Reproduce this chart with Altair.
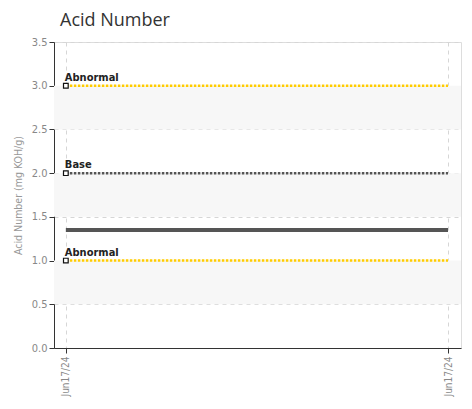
import altair as alt
import pandas as pd

# data
x_points = [0, 1]
x_labels = ["Jun17/24", "Jun17/24"]
series_values = [1.35, 1.35]
threshold_names = ["Abnormal", "Base", "Abnormal"]
threshold_values = [3.0, 2.0, 1.0]
threshold_colors = ["#ffcc00", "#555555", "#ffcc00"]
band_lo = [2.5, 1.5, 0.5]
band_hi = [3.0, 2.0, 1.0]

W, H = 407, 306
FONT = "DejaVu Sans Condensed, Roboto, sans-serif"

series_df = pd.DataFrame({"x": x_points, "y": series_values})
thr_df = pd.DataFrame({
    "name": threshold_names, "y": threshold_values, "color": threshold_colors,
    "x": [x_points[0]] * 3, "x2": [x_points[-1]] * 3,
})
band_df = pd.DataFrame({"lo": band_lo, "hi": band_hi})

xscale = alt.Scale(domain=[-0.031, 1.034], nice=False, zero=False)
yscale = alt.Scale(domain=[0, 3.5], nice=False)

label_expr = "datum.value == 0 ? '%s' : '%s'" % (x_labels[0], x_labels[1])

x_axis = alt.Axis(values=x_points, labelExpr=label_expr, title=None, grid=True,
                  gridDash=[4, 4], gridColor="#d6d6d6", labelAngle=270,
                  labelAlign="right", labelBaseline="middle", labelColor="#888888",
                  labelFont=FONT, labelFontSize=10, domainColor="#333333",
                  tickColor="#333333", tickSize=5, labelPadding=3)
y_axis = alt.Axis(values=[0, 0.5, 1, 1.5, 2, 2.5, 3, 3.5], format=".1f",
                  title="Acid Number (mg KOH/g)", titleColor="#999999",
                  titleFont=FONT, titleFontSize=10.5, titleFontWeight="normal",
                  titlePadding=8, grid=True, gridDash=[4, 4], gridColor="#d6d6d6",
                  labelColor="#888888", labelFont=FONT, labelFontSize=11,
                  domainColor="#333333", tickColor="#333333", tickSize=5)

bands = alt.Chart(band_df).mark_rect(color="#f7f7f7").encode(
    y=alt.Y("lo:Q", scale=yscale, axis=y_axis),
    y2="hi:Q",
    x=alt.value(0), x2=alt.value(W),
)

axes_layer = alt.Chart(series_df).mark_point(opacity=0).encode(
    x=alt.X("x:Q", scale=xscale, axis=x_axis),
    y=alt.Y("y:Q", scale=yscale),
)

rules = alt.Chart(thr_df).mark_rule(strokeWidth=2.5, strokeDash=[2.5, 1.5]).encode(
    x=alt.X("x:Q", scale=xscale), x2="x2:Q",
    y=alt.Y("y:Q", scale=yscale),
    color=alt.Color("color:N", scale=None),
)

line = alt.Chart(series_df).mark_line(color="#555555", strokeWidth=4).encode(
    x=alt.X("x:Q", scale=xscale),
    y=alt.Y("y:Q", scale=yscale),
)

squares = alt.Chart(thr_df).mark_point(shape="square", filled=True, fill="white",
                                       stroke="#111111", strokeWidth=1.2, size=22,
                                       opacity=1).encode(
    x=alt.X("x:Q", scale=xscale),
    y=alt.Y("y:Q", scale=yscale),
)

labels = alt.Chart(thr_df).mark_text(align="left", baseline="bottom", dx=-1, dy=-3,
                                     font=FONT, fontSize=11, fontWeight="bold",
                                     color="#222222").encode(
    x=alt.X("x:Q", scale=xscale),
    y=alt.Y("y:Q", scale=yscale),
    text="name:N",
)

chart = alt.layer(bands, axes_layer, rules, line, squares, labels).properties(
    width=W, height=H,
    title=alt.TitleParams("Acid Number", anchor="start", frame="group", fontSize=18,
                          fontWeight="normal", color="#333333",
                          font="Open Sans, sans-serif", dx=6, offset=6),
    autosize=alt.AutoSizeParams(type="none"),
    padding={"left": 46, "top": 34, "right": 3, "bottom": 51},
).configure_view(stroke=None).configure(background="white")

chart.save("out.html", embed_options={"renderer": "svg", "actions": False})
